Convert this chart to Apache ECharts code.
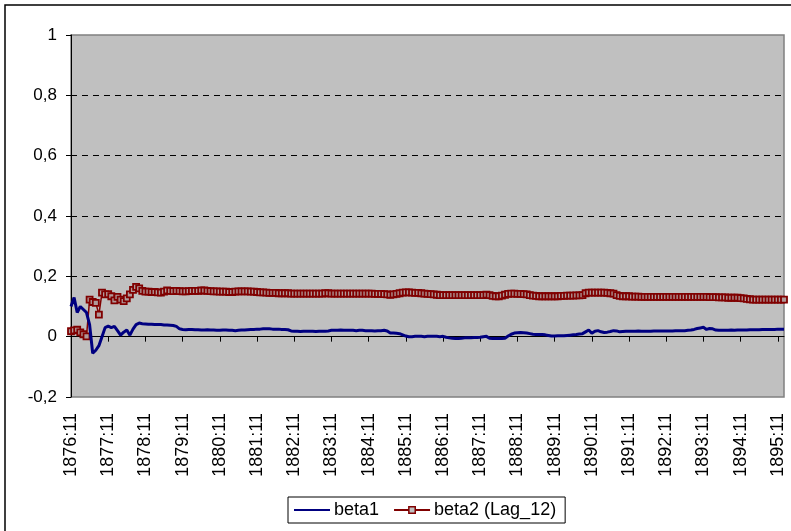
<!DOCTYPE html>
<html>
<head>
<meta charset="utf-8">
<script src="https://cdn.jsdelivr.net/npm/echarts@6/dist/echarts.min.js"></script>
<style>
  html, body { margin: 0; padding: 0; background: #fff; }
  #chart { width: 791px; height: 531px; }
</style>
</head>
<body>
<div id="chart"></div>
<script>
// Monthly categories from 1876:11 to 1896:01
const startYear = 1876;
const startMonth = 11;
const monthCount = 231;
const categories = [];
for (let k = 0; k < monthCount; k++) {
  const m = (startMonth - 1 + k) % 12 + 1;
  const y = startYear + Math.floor((startMonth - 1 + k) / 12);
  categories.push(y + ':' + (m < 10 ? '0' + m : m));
}

const yTicks = [-0.2, 0, 0.2, 0.4, 0.6, 0.8, 1];

const beta1 = [
  0.100,0.130,0.080,0.100,0.090,0.080,0.040,-0.055,-0.045,-0.030,0.000,0.030,0.035,0.030,0.034,0.020,0.005,0.015,0.022,0.005,0.025,0.040,0.045,0.043,
  0.042,0.041,0.041,0.040,0.040,0.040,0.039,0.039,0.038,0.037,
  0.034,0.026,
  0.024,0.023,0.024,0.024,0.023,0.023,0.022,0.022,0.023,0.022,0.022,0.021,0.021,0.022,0.022,0.021,0.021,0.020,0.021,0.022,
  0.022,0.023,0.024,0.024,0.025,0.025,0.026,0.026,0.026,0.025,0.025,0.025,0.024,0.024,0.023,0.019,
  0.018,0.018,0.017,0.018,0.018,0.018,0.018,0.017,0.018,0.018,0.018,0.019,
  0.021,0.021,0.021,0.022,0.021,0.021,0.021,0.021,0.020,0.021,0.021,0.020,0.020,0.020,0.019,0.020,0.020,0.021,0.019,
  0.012,0.012,0.011,0.010,0.006,0.002,0.000,
  0.000,0.001,0.001,0.001,0.000,0.001,0.001,0.001,0.001,0.000,0.001,
  -0.002,-0.004,-0.005,-0.006,-0.006,-0.005,
  -0.004,-0.004,-0.004,-0.003,-0.003,-0.002,0.000,0.001,
  -0.005,-0.006,-0.006,-0.006,-0.006,-0.005,
  0.002,0.008,0.012,0.013,0.014,0.013,0.012,0.010,0.008,
  0.007,0.007,0.007,0.006,0.004,0.002,0.002,
  0.003,0.003,0.003,0.004,0.005,
  0.006,0.007,0.009,0.010,0.016,0.022,0.011,0.018,0.020,0.016,0.014,0.015,0.017,0.020,0.019,0.016,0.017,0.018,
  0.018,0.018,0.018,0.019,0.018,0.018,0.018,0.018,0.019,0.019,0.019,0.019,0.019,0.019,0.019,0.020,0.020,0.020,0.020,0.021,
  0.022,0.024,0.027,0.029,0.031,0.024,0.027,0.026,0.022,0.021,
  0.021,0.021,0.021,0.022,0.021,0.022,0.022,0.022,0.022,0.023,0.023,0.023,0.023,0.024,0.024,0.024,0.024,0.024,0.025,0.025,0.025
];

const beta2 = [
  0.018,0.021,0.023,0.014,0.008,0.001,0.123,0.115,0.112,0.073,0.146,0.140,0.141,0.134,0.120,0.132,0.123,0.118,0.127,0.140,0.155,0.165,0.160,0.152,0.149,
  0.149,0.148,0.148,0.147,0.146,0.149,0.153,0.152,0.151,0.152,0.151,0.150,0.150,0.151,0.152,0.152,
  0.152,0.153,0.153,0.152,0.151,0.150,0.150,0.149,0.149,0.149,0.148,0.148,0.149,0.150,0.150,0.150,0.150,0.149,0.149,0.148,
  0.147,0.147,0.146,0.145,0.145,0.145,0.144,0.144,0.144,0.144,0.143,0.143,0.143,0.143,0.143,0.143,0.143,0.143,0.143,0.143,
  0.143,0.144,0.144,0.143,0.143,0.143,0.143,0.143,0.143,0.143,0.143,0.143,0.143,0.143,0.143,0.143,0.143,0.142,0.142,0.142,
  0.141,0.140,0.139,0.140,0.142,0.144,0.146,0.147,0.147,0.146,
  0.145,0.145,0.144,0.143,0.142,0.141,0.140,0.139,0.138,0.138,
  0.138,0.138,0.138,0.138,0.138,0.138,0.138,0.138,0.138,0.138,0.138,0.138,0.138,0.139,0.138,0.135,0.134,0.134,0.136,0.139,
  0.142,0.143,0.143,0.142,0.142,0.141,0.140,0.138,0.136,0.135,
  0.134,0.134,0.134,0.134,0.134,0.134,0.134,0.135,0.135,0.136,0.136,0.136,0.137,0.137,0.138,
  0.144,0.146,0.146,0.146,0.146,0.146,0.146,0.145,0.144,0.143,
  0.138,0.135,0.134,0.134,0.134,0.133,0.133,0.133,0.132,0.132,0.132,0.132,0.132,0.132,0.132,
  0.132,0.132,0.132,0.132,0.132,0.132,0.132,0.132,0.132,0.132,0.132,0.132,0.132,0.132,0.132,0.131,0.131,0.131,0.130,0.130,
  0.130,0.129,0.129,0.129,0.129,0.128,0.127,0.125,0.124,0.123,0.123,0.123,0.123,0.123,0.123,0.123,0.123,0.123,0.123,0.123
];

const seriesNames = ['beta1', 'beta2 (Lag_12)'];

const chart = echarts.init(document.getElementById('chart'), null, { renderer: 'canvas' });
const FONT = 'Liberation Sans, Arial, sans-serif';

const option = {
  animation: false,
  backgroundColor: '#ffffff',
  textStyle: { fontFamily: FONT },
  graphic: [{
    type: 'rect',
    shape: { x: 5, y: 5, width: 820, height: 560 },
    style: { fill: 'none', stroke: '#000', lineWidth: 1.5 },
    z: 100
  }],
  grid: {
    left: 71, right: 7, top: 35, bottom: 134,
    show: true,
    backgroundColor: '#C0C0C0',
    borderColor: '#808080',
    borderWidth: 1.5
  },
  legend: {
    top: 497,
    left: 288,
    data: [
      { name: seriesNames[0], itemStyle: { opacity: 0 } },
      { name: seriesNames[1], itemStyle: { color: '#C0C0C0', borderColor: '#800000', borderWidth: 1.5 } }
    ],
    itemWidth: 36,
    itemHeight: 8,
    itemGap: 14,
    padding: [4, 9, 4, 5],
    borderColor: '#000',
    borderWidth: 1,
    backgroundColor: '#fff',
    textStyle: { fontFamily: FONT, fontSize: 18, color: '#000', padding: [0, 0, 0, -1] }
  },
  xAxis: {
    type: 'category',
    data: categories,
    boundaryGap: false,
    axisLine: { show: true, lineStyle: { color: '#000', width: 1 } },
    axisTick: { show: true, interval: 11, length: 5, lineStyle: { color: '#000' } },
    axisLabel: {
      interval: 11, rotate: 90, margin: 16,
      fontFamily: FONT, fontSize: 18, color: '#000'
    },
    splitLine: { show: false }
  },
  yAxis: {
    type: 'value',
    min: yTicks[0], max: yTicks[yTicks.length - 1], interval: 0.2,
    axisLine: { show: true, lineStyle: { color: '#000', width: 1 } },
    axisTick: { show: true, length: 5, lineStyle: { color: '#000' } },
    axisLabel: {
      margin: 14, fontFamily: FONT, fontSize: 17, color: '#000',
      formatter: v => String(parseFloat(v.toFixed(1))).replace('.', ',')
    },
    splitLine: {
      show: true,
      lineStyle: {
        color: ['rgba(0,0,0,0)', '#000', '#000', '#000', '#000', '#000', 'rgba(0,0,0,0)'],
        type: [6, 5], width: 1
      }
    }
  },
  series: [
    {
      name: seriesNames[0],
      type: 'line',
      data: beta1,
      symbol: 'none',
      color: '#000080',
      lineStyle: { color: '#000080', width: 3 },
      z: 3
    },
    {
      name: seriesNames[1],
      type: 'line',
      data: beta2,
      symbol: 'rect',
      symbolSize: 6,
      showAllSymbol: true,
      color: '#800000',
      lineStyle: { color: '#800000', width: 1.5 },
      itemStyle: { color: '#B09A9A', borderColor: '#800000', borderWidth: 1.8 },
      z: 2
    }
  ]
};
chart.setOption(option);
</script>
</body>
</html>
